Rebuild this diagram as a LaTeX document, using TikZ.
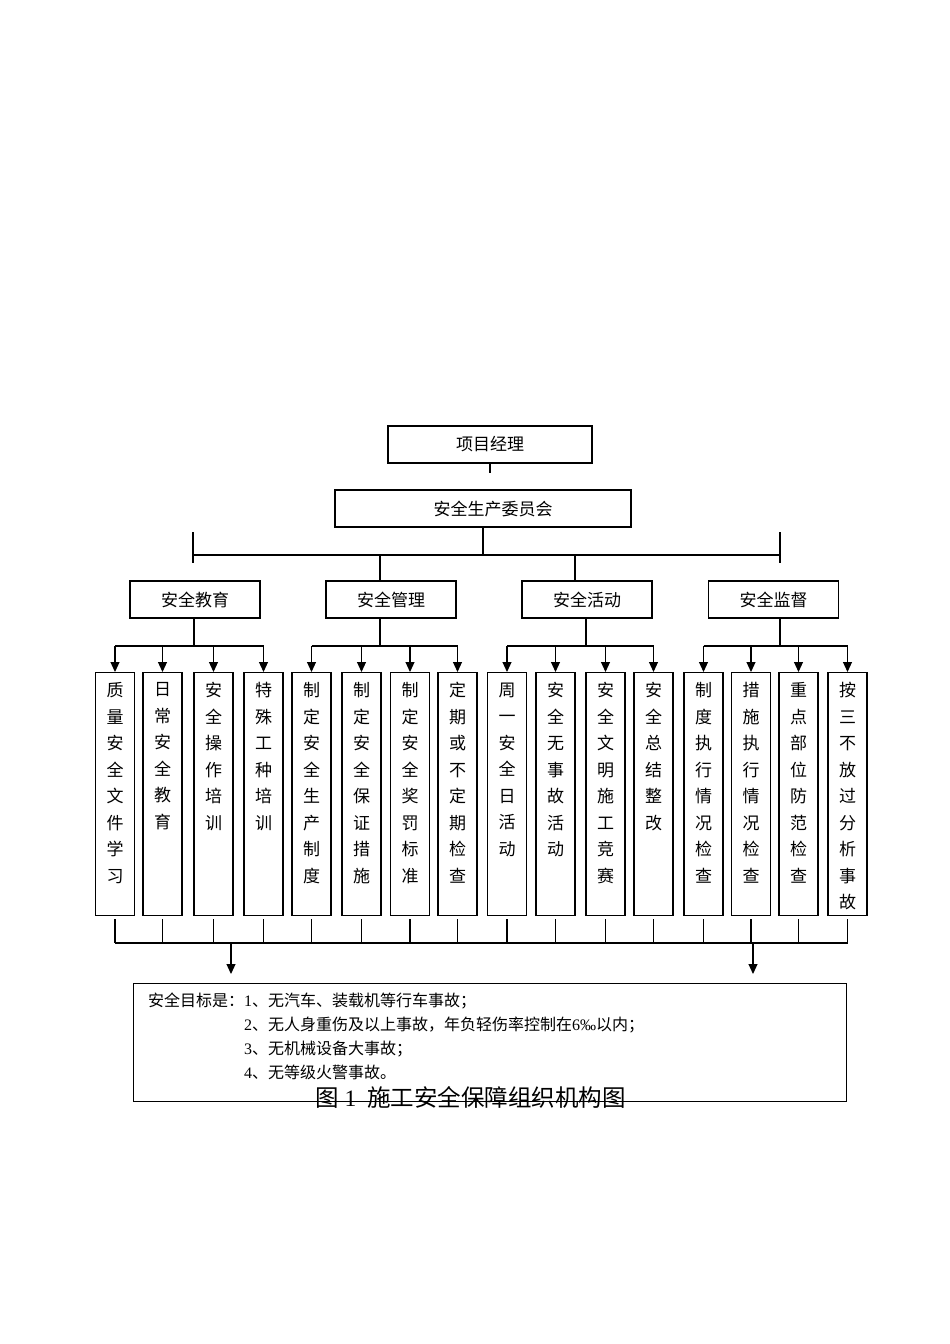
\documentclass[tikz,border=0pt]{standalone}
\usepackage{fontspec}
\setmainfont{Liberation Serif}
\newfontfamily\cjk{Noto Sans CJK SC}
\usepackage{tikz}
\usetikzlibrary{arrows.meta,calc,positioning}
\tikzset{
  plain/.style={line width=1.1pt},
  drop/.style={line width=1.1pt, -{Triangle[length=10pt,width=9pt]}},
  headbox/.style={draw, line width=1.1pt, minimum height=37pt, inner sep=0pt,
    font=\cjk\fontsize{17}{20}\selectfont},
  itembox/.style={draw, line width=1.1pt, anchor=north, inner sep=0pt,
    font=\cjk\fontsize{17}{26.5}\selectfont},
}
% One character per line, read from the top of a tall narrow box.
\def\vtextnext#1{\ifx\relax#1\else#1\par\expandafter\vtextnext\fi}
\newcommand{\vlabel}[1]{%
  \parbox[t][243pt][t]{39pt}{\parskip=0pt\centering\vspace*{10pt}%
    \expandafter\vtextnext#1\relax}}

\begin{document}
\begin{tikzpicture}[x=1pt, y=-1pt, line cap=butt, line join=miter]
  \useasboundingbox (0,0) rectangle (950,1344);

  % Head of the chart and the committee below it.
  \node[headbox, minimum width=204pt] (pm) at (490,444.5) {项目经理};
  \draw[plain] (pm.south) -- ++(0,9);
  \node[headbox, minimum width=296pt] (committee) at (483,508.5)
    {\hspace*{20pt}安全生产委员会};

  % The bus that feeds the four departments.
  \coordinate (busL) at (193,555);
  \coordinate (busR) at (780,555);
  \draw[plain] (committee.south) -- (committee.south |- busL);
  \draw[plain] (busL) -- (busR);
  \draw[plain] ($(busL)+(0,-23)$) -- ($(busL)+(0,8)$);
  \draw[plain] ($(busR)+(0,-23)$) -- ($(busR)+(0,8)$);

  \node[headbox, minimum width=130pt] (edu)  at (195,599.5)   {安全教育};
  \node[headbox, minimum width=130pt] (mgmt) at (391,599.5)   {安全管理};
  \node[headbox, minimum width=130pt] (act)  at (587,599.5)   {安全活动};
  \node[headbox, minimum width=130pt] (sup)  at (773.5,599.5) {安全监督};
  \draw[plain] (380,0 |- busL) -- (380,0 |- mgmt.north);
  \draw[plain] (575,0 |- busL) -- (575,0 |- act.north);

  % Sixteen tall boxes, four under each department.
  \foreach \x/\txt [count=\n] in {
      115/质量安全文件学习, 162.5/日常安全教育, 213.5/安全操作培训, 263.5/特殊工种培训,
      311.5/制定安全生产制度, 361.5/制定安全保证措施, 410/制定安全奖罚标准, 457.5/定期或不定期检查,
      507/周一安全日活动, 555.5/安全无事故活动, 605.5/安全文明施工竞赛, 653.5/安全总结整改,
      703.5/制度执行情况检查, 751/措施执行情况检查, 798.5/重点部位防范检查, 847.5/按三不放过分析事故}{
    \node[itembox] (b\n) at (\x,672) {\vlabel{\txt}};
    \draw[drop] (b\n.north |- 0,646) -- (b\n.north);
    \draw[plain] ($(b\n.south)+(0,3)$) -- (b\n.south |- 0,943);
  }

  % Stems from the departments down to their rails.
  \foreach \parent/\stem/\first/\last in {edu/194/1/4, mgmt/380/5/8, act/586/9/12, sup/780/13/16}{
    \draw[plain] (\stem,0 |- \parent.south) -- (\stem,646);
    \draw[plain] (b\first.north |- 0,646) -- (b\last.north |- 0,646);
  }

  % Collecting bar and the goals box.
  \draw[plain] (b1.south |- 0,943) -- (b16.south |- 0,943);
  \node[draw, plain, anchor=north west, minimum width=713pt, minimum height=118pt,
    inner sep=0pt] (goal) at (133,983) {};
  \draw[drop] (231,943) -- (231,974);
  \draw[drop] (753,943) -- (753,974);

  \node[anchor=north west, inner sep=0pt, align=left,
    font=\cjk\fontsize{16}{24}\selectfont] (goaltext) at (148,989)
    {\begin{tabular}{@{}l@{}l@{}}
      安全目标是：&{\rmfamily 1}、无汽车、装载机等行车事故；\\
      &{\rmfamily 2}、无人身重伤及以上事故，年负轻伤率控制在{\rmfamily 6‰}以内；\\
      &{\rmfamily 3}、无机械设备大事故；\\
      &{\rmfamily 4}、无等级火警事故。
    \end{tabular}};

  \node[inner sep=0pt, font=\cjk\fontsize{23.5}{26}\selectfont] (caption) at (470.5,1097)
    {图\hspace{6pt}{\rmfamily 1}\hspace{11pt}施工安全保障组织机构图};
\end{tikzpicture}
\end{document}
